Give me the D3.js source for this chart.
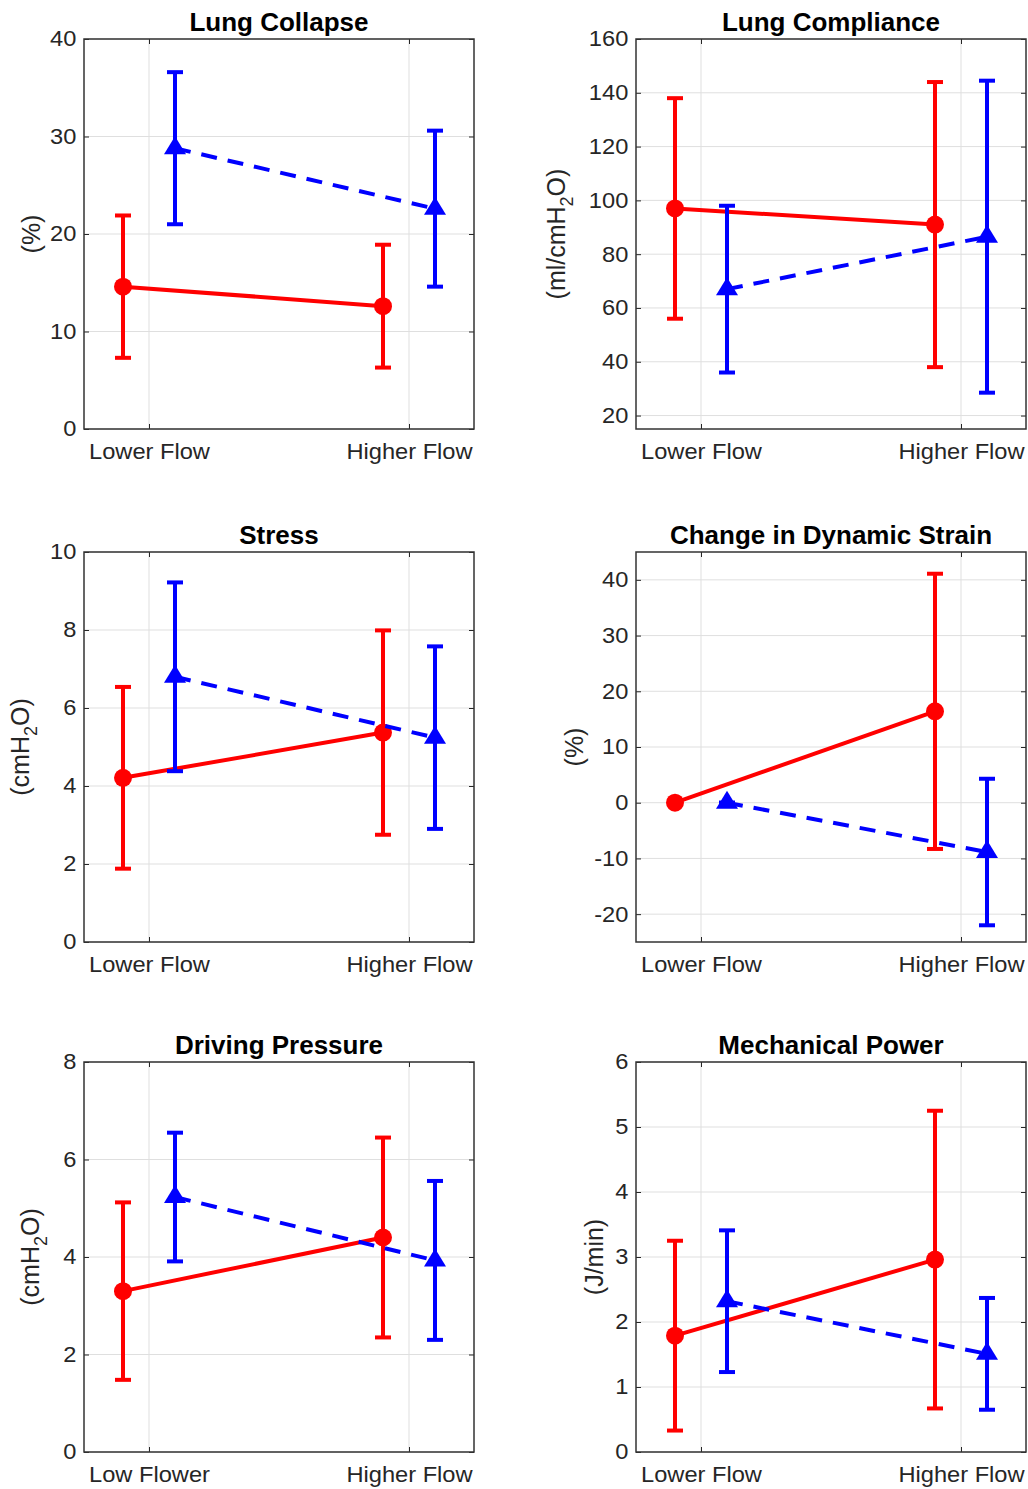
<!DOCTYPE html>
<html>
<head>
<meta charset="utf-8">
<script src="https://cdn.jsdelivr.net/npm/d3@7"></script>
<style>
  body { margin: 0; background: #fff; }
  text { font-family: "Liberation Sans", Arial, Helvetica, sans-serif; fill: #262626; }
  .title { font-weight: bold; font-size: 25px; fill: #000; }
  .ylab { font-size: 25px; }
</style>
</head>
<body>
<div id="wrapper"></div>
<script>
// panel data (mean and SD per group)
const titles = ['Lung Collapse', 'Lung Compliance', 'Stress', 'Change in Dynamic Strain', 'Driving Pressure', 'Mechanical Power'];
const yLabels = ['(%)', '(ml/cmH_2O)', '(cmH_2O)', '(%)', '(cmH_2O)', '(J/min)'];
const xLabels = [
  ['Lower Flow', 'Higher Flow'],
  ['Lower Flow', 'Higher Flow'],
  ['Lower Flow', 'Higher Flow'],
  ['Lower Flow', 'Higher Flow'],
  ['Low Flower', 'Higher Flow'],
  ['Lower Flow', 'Higher Flow']
];
const yDomains = [[0, 40], [15, 160], [0, 10], [-25, 45], [0, 8], [0, 6]];
const yTicks = [
  [0, 10, 20, 30, 40],
  [20, 40, 60, 80, 100, 120, 140, 160],
  [0, 2, 4, 6, 8, 10],
  [-20, -10, 0, 10, 20, 30, 40],
  [0, 2, 4, 6, 8],
  [0, 1, 2, 3, 4, 5, 6]
];
const redMean = [[14.6, 12.6], [97, 91], [4.21, 5.37], [0, 16.4], [3.3, 4.4], [1.79, 2.96]];
const redSD   = [[7.3, 6.3], [41, 53], [2.33, 2.62], [0, 24.7], [1.82, 2.05], [1.46, 2.29]];
const blueMean = [[28.8, 22.6], [67, 86.5], [6.8, 5.24], [0, -8.85], [5.23, 3.93], [2.32, 1.51]];
const blueSD   = [[7.8, 8.0], [31, 58], [2.42, 2.34], [0, 13.15], [1.32, 1.63], [1.09, 0.86]];

let colLeft = [84, 636],
    rowTop = [39, 552, 1062],
    w = 390,
    h = 390,
    ylabOffset = [51, 78, 62, 60, 52, 40],
    capW = 16;

let svg = d3.select('div#wrapper')
  .append('svg')
  .attr('width', 1028)
  .attr('height', 1489)
  .style('display', 'block');

let x = d3.scaleLinear().domain([0.75, 2.25]).range([0, w]);

function drawSeries(g, y, means, sds, color, shift, dashed, marker) {
  let pts = means.map(function(m, i) { return { x: i + 1 + shift, m: m, sd: sds[i] }; });

  let line = d3.line()
    .x(function(d) { return x(d.x); })
    .y(function(d) { return y(d.m); });

  let s = g.append('g');

  s.append('path')
    .datum(pts)
    .attr('d', line)
    .attr('fill', 'none')
    .attr('stroke', color)
    .attr('stroke-width', 4)
    .attr('stroke-dasharray', dashed ? '16 11' : null);

  let bars = s.selectAll('g.eb').data(pts).enter().append('g').attr('class', 'eb');
  bars.append('line')
    .attr('x1', function(d) { return x(d.x); })
    .attr('x2', function(d) { return x(d.x); })
    .attr('y1', function(d) { return y(d.m - d.sd); })
    .attr('y2', function(d) { return y(d.m + d.sd); })
    .attr('stroke', color).attr('stroke-width', 4);
  [-1, 1].forEach(function(k) {
    bars.append('line')
      .attr('x1', function(d) { return x(d.x) - capW / 2; })
      .attr('x2', function(d) { return x(d.x) + capW / 2; })
      .attr('y1', function(d) { return y(d.m + k * d.sd); })
      .attr('y2', function(d) { return y(d.m + k * d.sd); })
      .attr('stroke', color).attr('stroke-width', 4);
  });

  if (marker === 'circle') {
    s.selectAll('circle').data(pts).enter().append('circle')
      .attr('cx', function(d) { return x(d.x); })
      .attr('cy', function(d) { return y(d.m); })
      .attr('r', 9)
      .attr('fill', color);
  } else {
    s.selectAll('path.tri').data(pts).enter().append('path')
      .attr('class', 'tri')
      .attr('d', 'M0,-12L11,6L-11,6Z')
      .attr('transform', function(d) { return 'translate(' + x(d.x) + ',' + y(d.m) + ')'; })
      .attr('fill', color);
  }
}

titles.forEach(function(title, p) {
  let left = colLeft[p % 2],
      top = rowTop[Math.floor(p / 2)];

  let y = d3.scaleLinear().domain(yDomains[p]).range([h, 0]);

  let g = svg.append('g').attr('transform', 'translate(' + left + ',' + top + ')');

  // grid
  g.append('g')
    .selectAll('line.gy').data(yTicks[p]).enter().append('line')
    .attr('x1', 0).attr('x2', w)
    .attr('y1', function(d) { return y(d); }).attr('y2', function(d) { return y(d); })
    .attr('stroke', '#dfdfdf').attr('stroke-width', 1);
  g.append('g')
    .selectAll('line.gx').data([1, 2]).enter().append('line')
    .attr('x1', function(d) { return x(d); }).attr('x2', function(d) { return x(d); })
    .attr('y1', 0).attr('y2', h)
    .attr('stroke', '#dfdfdf').attr('stroke-width', 1);

  // axes, ticks pointing inward
  let yAxis = d3.axisLeft(y).tickValues(yTicks[p]).tickSize(-5).tickPadding(7)
    .tickFormat(function(d) { return String(d); });
  let xAxis = d3.axisBottom(x).tickValues([1, 2]).tickSize(-5).tickPadding(15)
    .tickFormat(function(d) { return xLabels[p][d - 1]; });

  g.append('g').call(yAxis);
  g.append('g').attr('transform', 'translate(0,' + h + ')').call(xAxis);
  g.append('g').attr('transform', 'translate(' + w + ',0)')
    .call(d3.axisRight(y).tickValues(yTicks[p]).tickSize(-5).tickFormat(''));
  g.append('g')
    .call(d3.axisTop(x).tickValues([1, 2]).tickSize(-5).tickFormat(''));

  g.selectAll('.domain').remove();
  g.selectAll('.tick line').attr('stroke', '#262626').attr('stroke-width', 1);
  g.selectAll('.tick text')
    .attr('fill', '#262626')
    .attr('transform', 'scale(1.1,1)')
    .style('font-size', '21.5px');

  g.append('rect')
    .attr('width', w).attr('height', h)
    .attr('fill', 'none')
    .attr('stroke', '#333').attr('stroke-width', 1.5);

  // data: red (solid, circles) then blue (dashed, triangles)
  drawSeries(g, y, redMean[p], redSD[p], '#ff0000', -0.1, false, 'circle');
  drawSeries(g, y, blueMean[p], blueSD[p], '#0000ff', 0.1, true, 'triangle');

  // title
  g.append('text')
    .attr('class', 'title')
    .attr('transform', 'translate(' + (w / 2) + ',-8) scale(1.04,1)')
    .attr('text-anchor', 'middle')
    .text(title);

  // y label with optional subscript
  let lab = g.append('text')
    .attr('class', 'ylab')
    .attr('text-anchor', 'middle')
    .attr('dy', '0.27em')
    .attr('transform', 'translate(' + (-ylabOffset[p]) + ',' + (h / 2) + ') rotate(-90)');
  let parts = yLabels[p].split('_');
  if (parts.length === 1) {
    lab.text(parts[0]);
  } else {
    lab.append('tspan').text(parts[0]);
    lab.append('tspan').attr('dy', 8).style('font-size', '18px').text(parts[1].charAt(0));
    lab.append('tspan').attr('dy', -8).text(parts[1].slice(1));
  }
});
</script>
</body>
</html>
